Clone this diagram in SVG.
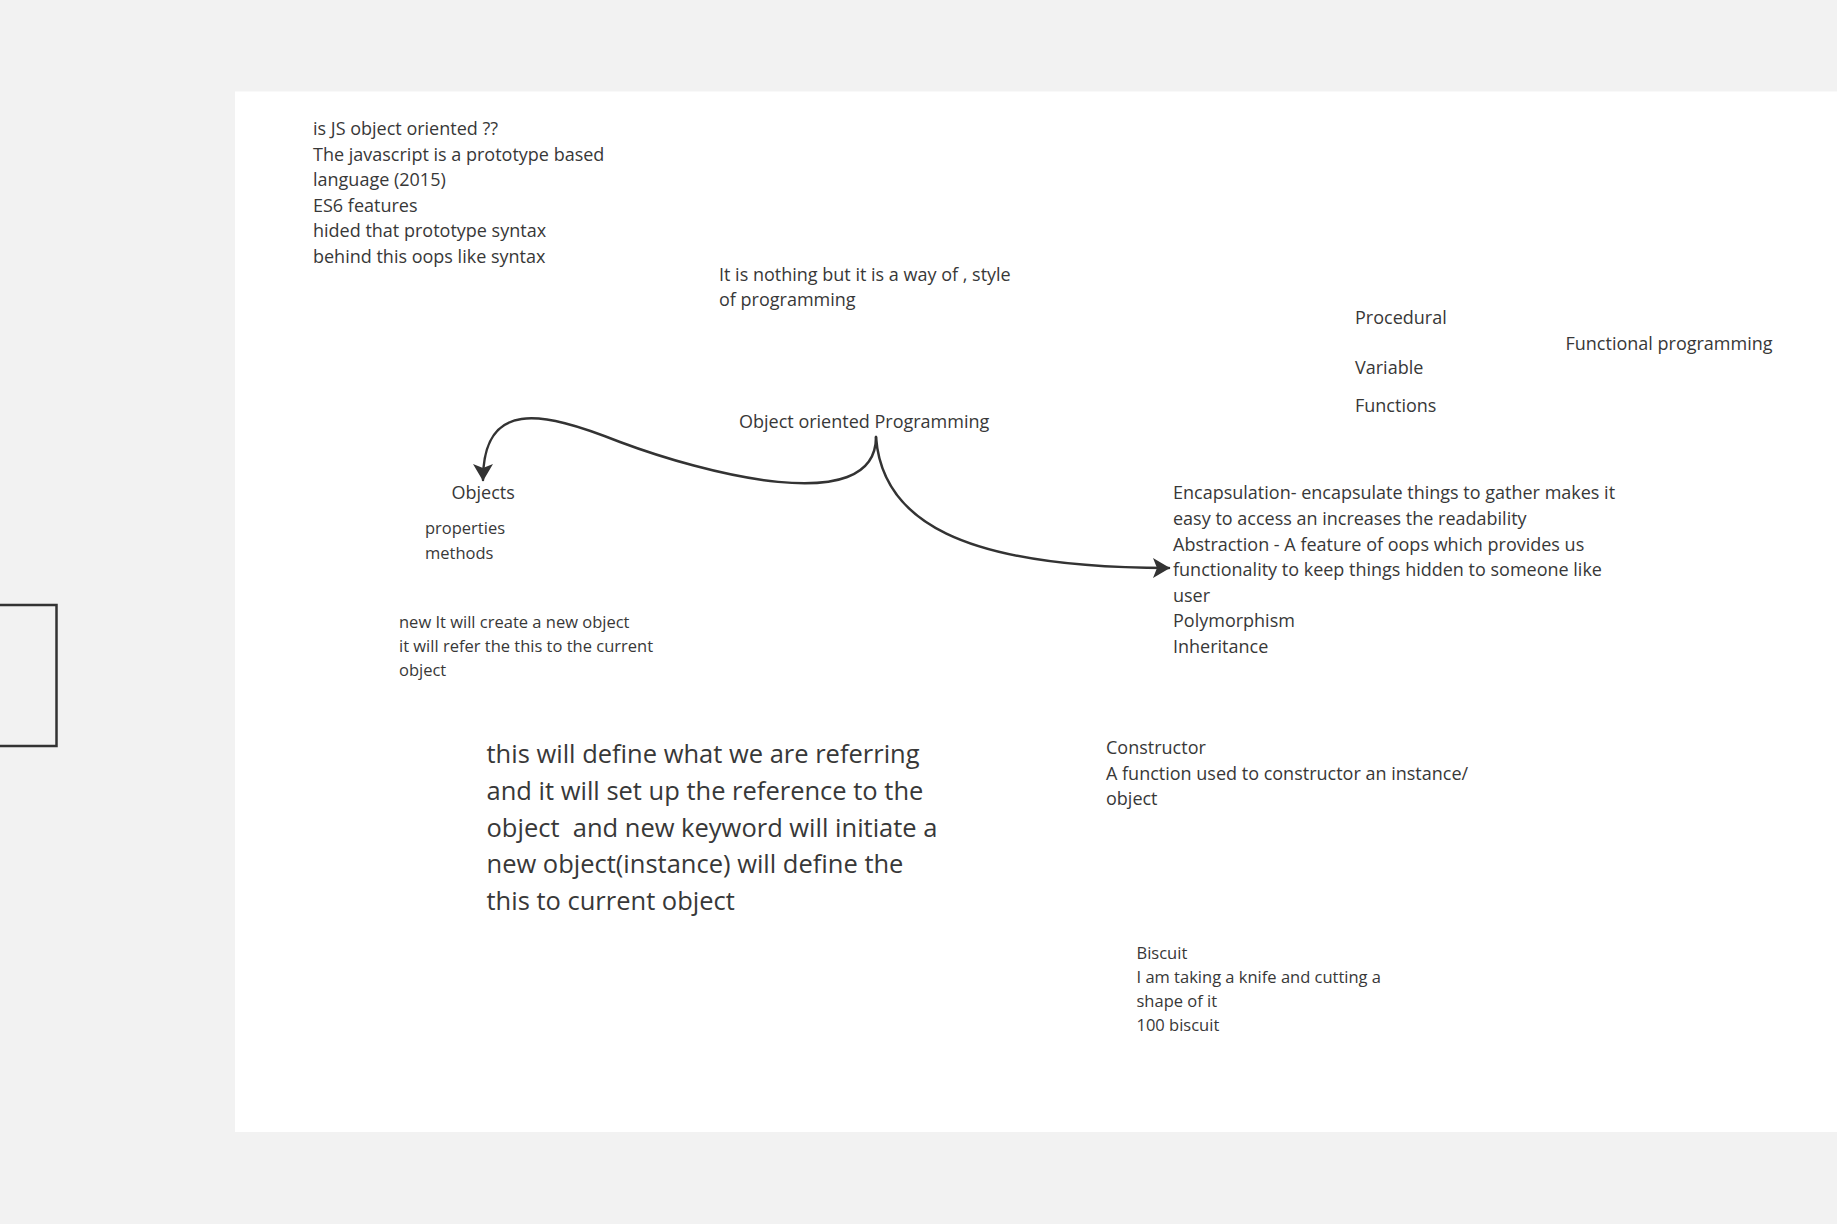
<svg xmlns="http://www.w3.org/2000/svg" width="1837" height="1224" viewBox="0 0 1837 1224">
<style>
text{font-family:"Open Sans","Noto Sans","Liberation Sans",sans-serif;fill:#383838;white-space:pre}
.t18{font-size:18px}
.t16{font-size:16.5px}
.t26{font-size:25.5px}
.conn{fill:none;stroke:#333333;stroke-width:2.5;stroke-linecap:round}
</style>
<defs>
<marker id="arr" viewBox="0 0 17 20" refX="16" refY="10" markerWidth="17" markerHeight="20" markerUnits="userSpaceOnUse" orient="auto">
<path d="M0,0 L17,10 L0,20 L4,10 Z" fill="#333333"/>
</marker>
</defs>
<rect x="0" y="0" width="1837" height="1224" fill="#f2f2f2"/>
<rect x="235" y="91.5" width="1602" height="1040.5" fill="#ffffff"/>
<rect id="frame-left" x="-10" y="605" width="66.5" height="141" fill="none" stroke="#333333" stroke-width="2.5"/>
<g id="connectors">
<path class="conn" d="M 876 437 C 876 520, 700 472, 620 442 C 540 410, 483 400, 483 480" marker-end="url(#arr)"/>
<path class="conn" d="M 876 437 C 882 520, 960 568, 1169 568" marker-end="url(#arr)"/>
</g>
<g id="note-js" class="t18">
<text x="313" y="135">is JS object oriented ??</text>
<text x="313" y="160.5">The javascript is a prototype based</text>
<text x="313" y="186">language (2015)</text>
<text x="313" y="211.5">ES6 features</text>
<text x="313" y="237">hided that prototype syntax</text>
<text x="313" y="262.5">behind this oops like syntax</text>
</g>
<g id="note-style" class="t18">
<text x="719" y="280.5">It is nothing but it is a way of , style</text>
<text x="719" y="306">of programming</text>
</g>
<g id="node-oop" class="t18">
<text x="739" y="428">Object oriented Programming</text>
</g>
<g id="note-procedural" class="t18">
<text x="1355" y="324">Procedural</text>
<text x="1355" y="374">Variable</text>
<text x="1355" y="412">Functions</text>
</g>
<g id="note-functional" class="t18">
<text x="1565.5" y="349.5">Functional programming</text>
</g>
<g id="node-objects" class="t18">
<text x="451.5" y="498.5">Objects</text>
</g>
<g id="note-props" class="t16">
<text x="425" y="534">properties</text>
<text x="425" y="559">methods</text>
</g>
<g id="note-new" class="t16">
<text x="399" y="627.8">new It will create a new object</text>
<text x="399" y="652">it will refer the this to the current</text>
<text x="399" y="676">object</text>
</g>
<g id="node-pillars" class="t18">
<text x="1173" y="499">Encapsulation- encapsulate things to gather makes it</text>
<text x="1173" y="524.5">easy to access an increases the readability</text>
<text x="1173" y="550.5">Abstraction - A feature of oops which provides us</text>
<text x="1173" y="576">functionality to keep things hidden to someone like</text>
<text x="1173" y="601.5">user</text>
<text x="1173" y="627">Polymorphism</text>
<text x="1173" y="652.5">Inheritance</text>
</g>
<g id="note-this" class="t26">
<text x="486.5" y="763.3">this will define what we are referring</text>
<text x="486.5" y="800">and it will set up the reference to the</text>
<text x="486.5" y="836.5">object  and new keyword will initiate a</text>
<text x="486.5" y="873">new object(instance) will define the</text>
<text x="486.5" y="909.5">this to current object</text>
</g>
<g id="note-constructor" class="t18">
<text x="1106" y="754">Constructor</text>
<text x="1106" y="779.5">A function used to constructor an instance/</text>
<text x="1106" y="805">object</text>
</g>
<g id="note-biscuit" class="t16">
<text x="1136.5" y="958.5">Biscuit</text>
<text x="1136.5" y="982.7">I am taking a knife and cutting a</text>
<text x="1136.5" y="1006.9">shape of it</text>
<text x="1136.5" y="1031">100 biscuit</text>
</g>
</svg>
